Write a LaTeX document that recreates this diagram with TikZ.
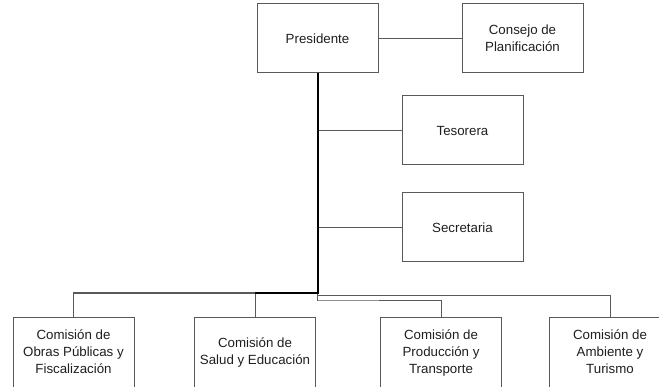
\documentclass[tikz,border=0pt]{standalone}
\usepackage{fontspec}
\setmainfont{Liberation Sans}
\newcommand\uptext[1]{\raisebox{3pt}{\begin{tabular}{@{}c@{}}#1\end{tabular}}}
\begin{document}
\begin{tikzpicture}[x=1pt,y=1pt,
  box/.style={draw=black!65, line width=1pt, fill=white, minimum width=121pt, minimum height=69pt, inner sep=0pt, align=center, font=\fontsize{13.3}{16.7}\selectfont, text=black!88},
  lowbox/.style={box, minimum height=71pt, anchor=north},
  thinline/.style={draw=black!65, line width=1pt},
  boldline/.style={draw=black, line width=2pt}]
\useasboundingbox (0,0) rectangle (659,386);
\clip (0,0) rectangle (659,386);
\fill[white] (0,0) rectangle (659,386);
\node[box] (pres) at (317.5,347.5) {Presidente};
\node[box] (cons) at (522.5,347.5) {Consejo de\\Planificación};
\node[box] (tes) at (462.5,255.5) {Tesorera};
\node[box] (sec) at (462.5,158.5) {Secretaria};
\node[lowbox] (c1) at (73.5,69) {\uptext{Comisión de\\Obras Públicas y\\Fiscalización}};
\node[lowbox] (c2) at (255,69) {\uptext{Comisión de\\Salud y Educación}};
\node[lowbox] (c3) at (441,69) {\uptext{Comisión de\\Producción y\\Transporte}};
\node[lowbox] (c4) at (610,69) {\uptext{Comisión de\\Ambiente y\\Turismo}};
\coordinate (sb) at (317.5,93);
\coordinate (j2) at (255,93);
\coordinate (r4) at (318,91);
\coordinate (r3) at (318,86);
\draw[thinline] (pres.east) -- (cons.west);
\draw[thinline] (pres.south |- tes.west) -- (tes.west);
\draw[thinline] (pres.south |- sec.west) -- (sec.west);
\draw[thinline] (j2) -| (c1.north);
\draw[thinline] (j2) -- (c2.north);
\draw[thinline] (r4) -| (c4.north);
\draw[thinline] (sb) |- (r3) -| (c3.north);
\draw[boldline] (pres.south) -- (sb) -- (j2);
\end{tikzpicture}
\end{document}
